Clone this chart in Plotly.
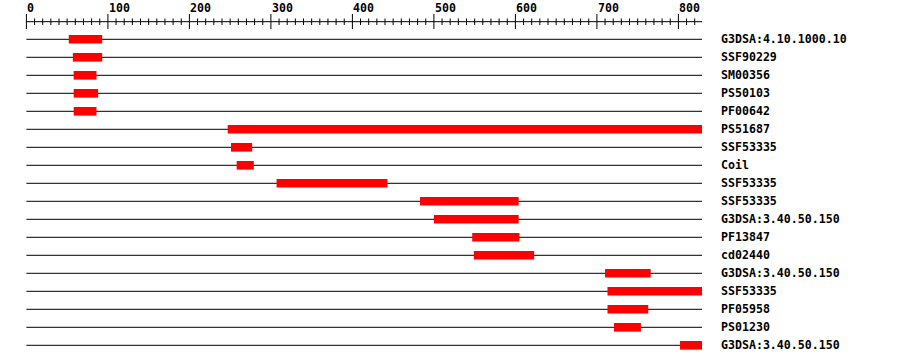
import plotly.graph_objects as go

# ---- data ----
protein_length = 829
labels = ["G3DSA:4.10.1000.10", "SSF90229", "SM00356", "PS50103", "PF00642",
          "PS51687", "SSF53335", "Coil", "SSF53335", "SSF53335",
          "G3DSA:3.40.50.150", "PF13847", "cd02440", "G3DSA:3.40.50.150",
          "SSF53335", "PF05958", "PS01230", "G3DSA:3.40.50.150"]
starts = [52, 57, 58, 58, 58, 247, 251, 258, 307, 483, 500, 547, 549, 710, 713, 713, 721, 802]
ends = [93, 93, 86, 88, 86, 829, 277, 279, 443, 604, 604, 605, 623, 766, 829, 763, 754, 829]
major_ticks = [0, 100, 200, 300, 400, 500, 600, 700, 800]
minor_ticks = [v for v in range(0, 821, 10) if v % 100 != 0]

# ---- geometry / style ----
W, H = 900, 364
PX0 = 26.4          # pixel of position 0
SCALE = 0.815       # px per residue
ROW0 = 39.3         # pixel y of first row
ROWH = 18.0
xa = -PX0 / SCALE
xb = xa + W / SCALE
ya = -ROW0 / ROWH
yb = ya + H / ROWH

def py(pix):  # pixel y -> y data units
    return (pix - ROW0) / ROWH

rows = list(range(len(labels)))
fig = go.Figure()

fig.add_trace(go.Bar(
    y=rows, x=[e - s for s, e in zip(starts, ends)], base=starts,
    orientation="h", width=0.48,
    marker=dict(color="#ff0000", line=dict(width=0)),
    hoverinfo="skip", showlegend=False))

shapes = []
for r in rows:
    shapes.append(dict(type="line", xref="x", yref="y", x0=0, x1=protein_length,
                       y0=r, y1=r, line=dict(color="black", width=1), layer="below"))
# ruler
shapes.append(dict(type="line", xref="x", yref="y", x0=0, x1=protein_length,
                   y0=py(21.7), y1=py(21.7), line=dict(color="black", width=1)))
for t in major_ticks:
    shapes.append(dict(type="line", xref="x", yref="y", x0=t, x1=t,
                       y0=py(14), y1=py(29), line=dict(color="black", width=1)))
for t in minor_ticks:
    shapes.append(dict(type="line", xref="x", yref="y", x0=t, x1=t,
                       y0=py(18.5), y1=py(25), line=dict(color="black", width=1)))

font = dict(family="DejaVu Sans Mono", size=11.6, color="black", weight="bold")
annotations = []
for t in major_ticks:
    annotations.append(dict(x=t, y=py(8.3), xref="x", yref="y", text=str(t),
                            showarrow=False, xanchor="left", yanchor="middle",
                            xshift=-1, font=font))
for r, lab in zip(rows, labels):
    annotations.append(dict(x=720 / W, y=r, xref="paper", yref="y", text=lab,
                            showarrow=False, xanchor="left", yanchor="middle",
                            xshift=-1.5, font=font))

fig.update_layout(
    width=W, height=H, margin=dict(l=0, r=0, t=0, b=0),
    paper_bgcolor="white", plot_bgcolor="white",
    xaxis=dict(range=[xa, xb], visible=False, fixedrange=True),
    yaxis=dict(range=[yb, ya], visible=False, fixedrange=True),
    shapes=shapes, annotations=annotations, showlegend=False)

fig.write_html("out.html")
